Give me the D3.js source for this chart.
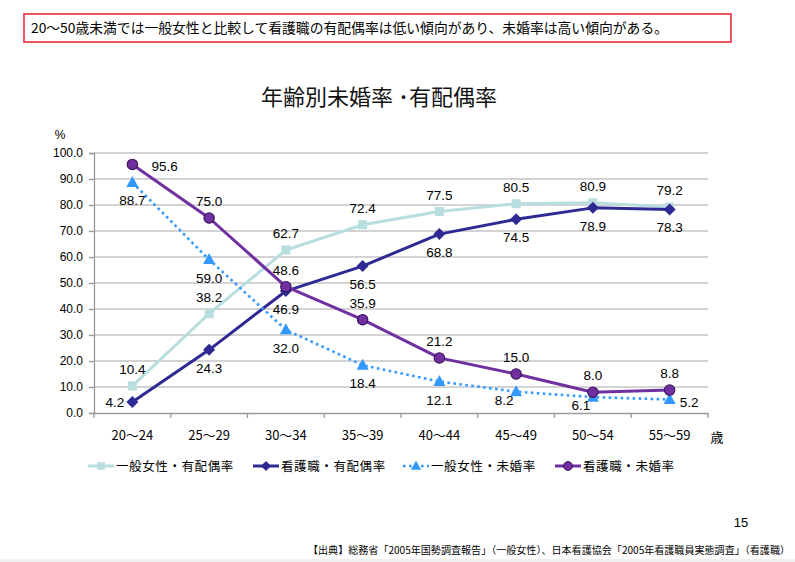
<!DOCTYPE html>
<html><head><meta charset="utf-8">
<script src="https://cdn.jsdelivr.net/npm/d3@7"></script>
<style>body{margin:0;background:#fff;} svg{display:block;}</style>
</head><body>
<svg id="c" width="795" height="562"></svg>
<script>
// ---- data ----
const categories = ["20～24","25～29","30～34","35～39","40～44","45～49","50～54","55～59"];
const yTicks = [0,10,20,30,40,50,60,70,80,90,100];
const seriesNames = ["一般女性・有配偶率","看護職・有配偶率","一般女性・未婚率","看護職・未婚率"];
const generalMarried   = [10.4,38.2,62.7,72.4,77.5,80.5,80.9,79.2];
const nurseMarried     = [4.2,24.3,46.9,56.5,68.8,74.5,78.9,78.3];
const generalUnmarried = [88.7,59.0,32.0,18.4,12.1,8.2,6.1,5.2];
const nurseUnmarried   = [95.6,75.0,48.6,35.9,21.2,15.0,8.0,8.8];
const titleText = "年齢別未婚率 ･有配偶率";
const noteText = "20～50歳未満では一般女性と比較して看護職の有配偶率は低い傾向があり、未婚率は高い傾向がある。";
const sourceText = "【出典】総務省「2005年国勢調査報告」（一般女性）、日本看護協会「2005年看護職員実態調査」（看護職）";
const pageNo = "15";
const unitY = "%";
const unitX = "歳";

// ---- style / layout ----
const W = 795, H = 562;
const L = 94, R = 708, T = 153, B = 413;
const NUM = "'Liberation Sans', Arial, sans-serif";
const JP = "'Noto Sans CJK JP', 'Noto Sans', sans-serif";

const series = [
  {name: seriesNames[0], values: generalMarried, color:"#B9DEE0", width:3, dash:null, marker:"square", fill:"#B9DEE0", stroke:"none",
   place: ["above","above","above","above","above","above","above","above"]},
  {name: seriesNames[1], values: nurseMarried, color:"#2F2A93", width:3, dash:null, marker:"diamond", fill:"#2F2A93", stroke:"none",
   place: ["left","below","below","below","below","below","below","below"]},
  {name: seriesNames[2], values: generalUnmarried, color:"#3399FF", width:2.6, dash:"2.6,3.4", marker:"triangle", fill:"#3399FF", stroke:"none",
   place: ["below","below","below","below","below","belowleft","belowleft","right"]},
  {name: seriesNames[3], values: nurseUnmarried, color:"#7030A0", width:3, dash:null, marker:"circle", fill:"#7030A0", stroke:"#3A1258",
   place: ["rightfar","above","above","above","above","above","above","above"]}
];

const markerPath = {
  square: "M-4.5,-4.5H4.5V4.5H-4.5Z",
  diamond: "M0,-6L6,0L0,6L-6,0Z",
  triangle: "M0,-6.5L6,4.5L-6,4.5Z",
  circle: d3.symbol().type(d3.symbolCircle).size(Math.PI*5.2*5.2)()
};

const svg = d3.select("#c");
svg.append("rect").attr("width",W).attr("height",H).attr("fill","#fff");
svg.append("rect").attr("x",0).attr("y",559).attr("width",W).attr("height",3).attr("fill","#F0F0F0");

// note box
svg.append("rect").attr("x",24).attr("y",14).attr("width",707).attr("height",28)
  .attr("fill","none").attr("stroke","#E8303A").attr("stroke-width",1.6);
svg.append("text").attr("x",31).attr("y",33).attr("font-family",JP).attr("font-size",13.5)
  .attr("fill","#000").attr("textLength",637).attr("lengthAdjust","spacingAndGlyphs").text(noteText);

// title
svg.append("text").attr("x",379).attr("y",105).attr("text-anchor","middle")
  .attr("font-family",JP).attr("font-size",22).attr("fill","#111").text(titleText);

// scales
const x = d3.scaleBand().domain(categories).range([L,R]);
const cx = c => x(c) + x.bandwidth()/2;
const y = d3.scaleLinear().domain([0,100]).range([B,T]);

// gridlines
svg.append("g").selectAll("line").data(yTicks.filter(d=>d>0)).join("line")
  .attr("x1",L).attr("x2",R).attr("y1",d=>y(d)).attr("y2",d=>y(d))
  .attr("stroke","#C4C4C4").attr("stroke-width",1.5);

// y axis
const yAxis = svg.append("g").attr("transform",`translate(${L},0)`)
  .call(d3.axisLeft(y).tickValues(yTicks).tickFormat(d3.format(".1f")).tickSize(5).tickPadding(6));
yAxis.select(".domain").attr("stroke","#9A9A9A").attr("stroke-width",1.3);
yAxis.selectAll(".tick line").attr("stroke","#9A9A9A").attr("stroke-width",1.3);
yAxis.selectAll("text").attr("font-family",NUM).attr("font-size",12).attr("fill","#000");

// x axis
const xAxis = svg.append("g").attr("transform",`translate(0,${B})`)
  .call(d3.axisBottom(x).tickSize(0).tickPadding(18));
xAxis.select(".domain").attr("stroke","#9A9A9A").attr("stroke-width",1.3);
xAxis.selectAll("text").attr("font-family",JP).attr("font-size",13).attr("fill","#000");
const bounds = categories.map(c=>x(c)).concat([R]);
svg.append("g").selectAll("line").data(bounds).join("line")
  .attr("x1",d=>d).attr("x2",d=>d).attr("y1",B).attr("y2",B+5)
  .attr("stroke","#9A9A9A").attr("stroke-width",1.3);

// units
svg.append("text").attr("x",60).attr("y",139).attr("text-anchor","middle")
  .attr("font-family",NUM).attr("font-size",12).text(unitY);
svg.append("text").attr("x",717).attr("y",442).attr("text-anchor","middle")
  .attr("font-family",JP).attr("font-size",13).text(unitX);

// lines
const line = d3.line().x((d,i)=>cx(categories[i])).y(d=>y(d));
series.forEach(s=>{
  svg.append("path").datum(s.values).attr("d",line).attr("fill","none")
    .attr("stroke",s.color).attr("stroke-width",s.width)
    .attr("stroke-dasharray",s.dash).attr("stroke-linejoin","round");
});
// markers
series.forEach(s=>{
  svg.append("g").selectAll("path").data(s.values).join("path")
    .attr("d",markerPath[s.marker])
    .attr("transform",(d,i)=>`translate(${cx(categories[i])},${y(d)})`)
    .attr("fill",s.fill).attr("stroke",s.stroke).attr("stroke-width",1.1);
});
// data labels
const off = {
  above: {dx:0, dy:-12, a:"middle"},
  below: {dx:0, dy:23, a:"middle"},
  left: {dx:-8, dy:5, a:"end"},
  right: {dx:10, dy:8, a:"start"},
  rightfar: {dx:19, dy:7, a:"start"},
  belowleft: {dx:-12, dy:13, a:"middle"}
};
series.forEach(s=>{
  svg.append("g").selectAll("text").data(s.values).join("text")
    .attr("x",(d,i)=>cx(categories[i]) + off[s.place[i]].dx)
    .attr("y",(d,i)=>y(d) + off[s.place[i]].dy)
    .attr("text-anchor",(d,i)=>off[s.place[i]].a)
    .attr("font-family",NUM).attr("font-size",13.5).attr("fill","#000")
    .text(d=>d3.format(".1f")(d));
});

// legend
const legX = [88, 253, 403, 555];
const legY = 466;
series.forEach((s,i)=>{
  const g = svg.append("g").attr("transform",`translate(${legX[i]},${legY})`);
  g.append("line").attr("x1",0).attr("x2",26).attr("y1",0).attr("y2",0)
    .attr("stroke",s.color).attr("stroke-width",s.width).attr("stroke-dasharray",s.dash);
  g.append("path").attr("d",markerPath[s.marker]).attr("transform","translate(13,0) scale(0.85)")
    .attr("fill",s.fill).attr("stroke",s.stroke).attr("stroke-width",1.1);
  g.append("text").attr("x",28).attr("y",5).attr("font-family",JP).attr("font-size",12.5)
    .attr("letter-spacing",0.6).text(s.name);
});

// page number & source
svg.append("text").attr("x",741).attr("y",527).attr("text-anchor","middle")
  .attr("font-family",NUM).attr("font-size",13).text(pageNo);
svg.append("text").attr("x",308).attr("y",554).attr("font-family",JP).attr("font-size",10)
  .attr("textLength",482).attr("lengthAdjust","spacingAndGlyphs").text(sourceText);
</script>
</body></html>
